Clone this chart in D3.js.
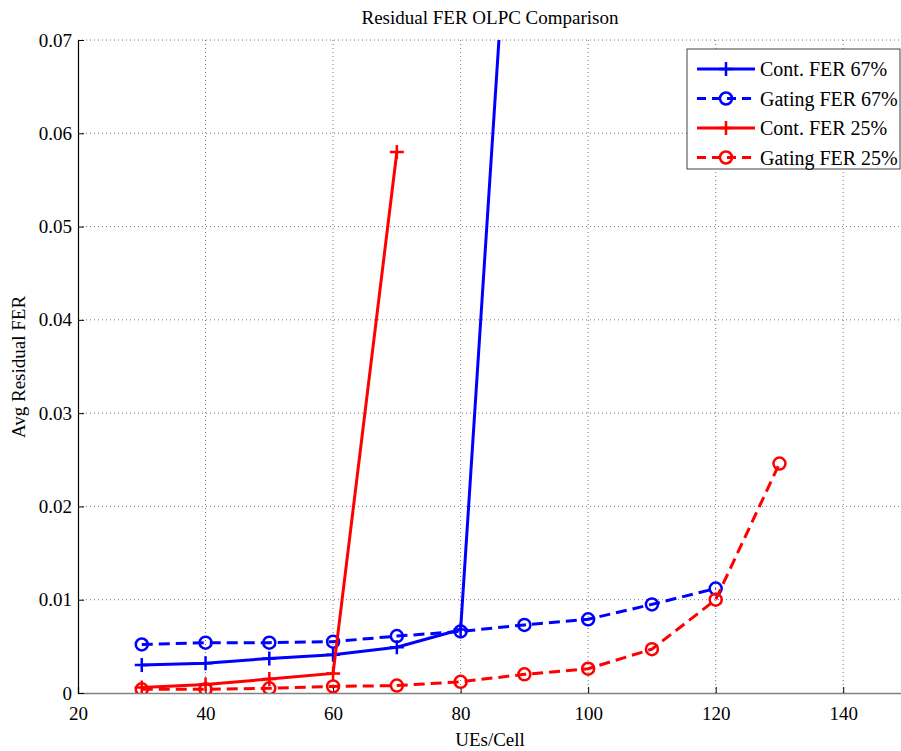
<!DOCTYPE html>
<html>
<head>
<meta charset="utf-8">
<script src="https://cdn.jsdelivr.net/npm/d3@7/dist/d3.min.js"></script>
<style>
  body { margin: 0; background: #fff; }
  svg text { font-family: "Liberation Serif", "Times New Roman", serif; }
</style>
</head>
<body>
<svg id="chart" width="901" height="751"></svg>
<script>
const svg = d3.select("#chart");

// data
const UES = [30, 40, 50, 60, 70, 80, 90, 100, 110, 120, 130];
const contFer67 = [0.0030, 0.0032, 0.0037, 0.0041, 0.0049, 0.0068, 0.112];
const gatingFer67 = [0.0052, 0.0054, 0.0054, 0.0055, 0.0061, 0.0066, 0.0073, 0.0079, 0.0095, 0.0112];
const contFer25 = [0.0006, 0.0009, 0.0015, 0.0021, 0.058];
const gatingFer25 = [0.0004, 0.0004, 0.0005, 0.0007, 0.0008, 0.0012, 0.0020, 0.0026, 0.0047, 0.0100, 0.0246];

const X_TICKS = [20, 40, 60, 80, 100, 120, 140];
const Y_TICKS = [0, 0.01, 0.02, 0.03, 0.04, 0.05, 0.06, 0.07];

const series = [
    { name: "Cont. FER 67%", values: contFer67, color: "#0000ff", dashed: false, marker: "plus" },
    { name: "Gating FER 67%", values: gatingFer67, color: "#0000ff", dashed: true, marker: "circle" },
    { name: "Cont. FER 25%", values: contFer25, color: "#ff0000", dashed: false, marker: "plus" },
    { name: "Gating FER 25%", values: gatingFer25, color: "#ff0000", dashed: true, marker: "circle" },
];

const PLOT_LEFT = 78, PLOT_TOP = 40, PLOT_BOTTOM = 693, PLOT_RIGHT = 907;
const xscale = d3.scaleLinear().domain([20, 150]).range([PLOT_LEFT, PLOT_RIGHT]);
const yscale = d3.scaleLinear().domain([0, 0.07]).range([PLOT_BOTTOM, PLOT_TOP]);
const FONT = "Liberation Serif";

// grid
const grid = svg.append("g");
grid.selectAll(".gx").data(X_TICKS.slice(1)).join("line")
    .attr("x1", d => xscale(d)).attr("x2", d => xscale(d))
    .attr("y1", PLOT_TOP).attr("y2", PLOT_BOTTOM)
    .style("stroke", "#777").style("stroke-width", 1).style("stroke-dasharray", "1,3");
grid.selectAll(".gy").data(Y_TICKS.slice(1)).join("line")
    .attr("x1", PLOT_LEFT).attr("x2", PLOT_RIGHT)
    .attr("y1", d => yscale(d)).attr("y2", d => yscale(d))
    .style("stroke", "#777").style("stroke-width", 1).style("stroke-dasharray", "1,3");

// axes
const xAxis = svg.append("g").attr("transform", `translate(0,${PLOT_BOTTOM})`)
    .call(d3.axisBottom(xscale).tickValues(X_TICKS).tickSize(-6).tickPadding(14))
    .attr("font-family", FONT).attr("font-size", 19);
xAxis.select(".domain").style("stroke", "#808080").style("stroke-width", 1.5);
xAxis.selectAll(".tick line").style("stroke", "#000");
xAxis.selectAll("text").attr("dy", "0.71em");

const yAxis = svg.append("g").attr("transform", `translate(${PLOT_LEFT},0)`)
    .call(d3.axisLeft(yscale).tickValues(Y_TICKS).tickSize(-6).tickPadding(6)
        .tickFormat(d => d === 0 ? "0" : d3.format(".2f")(d)))
    .attr("font-family", FONT).attr("font-size", 19);
yAxis.select(".domain").style("stroke", "#000").style("stroke-width", 1.2);
yAxis.selectAll(".tick line").style("stroke", "#000");

// clip for lines
svg.append("clipPath").attr("id", "plotclip")
    .append("rect").attr("x", PLOT_LEFT).attr("y", PLOT_TOP)
    .attr("width", PLOT_RIGHT - PLOT_LEFT).attr("height", PLOT_BOTTOM - PLOT_TOP);

const lineGen = d3.line().x(d => xscale(d.x)).y(d => yscale(d.y));

function drawMarker(g, cx, cy, s) {
    if (s.marker === "circle") {
        g.append("circle").attr("cx", cx).attr("cy", cy).attr("r", 6)
            .style("fill", "none").style("stroke", s.color).style("stroke-width", 2.5);
    } else {
        g.append("path").attr("d", `M${cx - 7},${cy}H${cx + 7}M${cx},${cy - 7}V${cy + 7}`)
            .style("stroke", s.color).style("stroke-width", 2.5);
    }
}

const plot = svg.append("g").attr("clip-path", "url(#plotclip)");
for (const s of series) {
    const pts = s.values.map((v, i) => ({ x: UES[i], y: v }));
    plot.append("path").datum(pts)
        .attr("d", lineGen)
        .style("fill", "none")
        .style("stroke", s.color)
        .style("stroke-width", 3)
        .style("stroke-dasharray", s.dashed ? "11,6" : null);
    for (const p of pts) {
        if (p.y <= 0.07) drawMarker(plot, xscale(p.x), yscale(p.y), s);
    }
}

// title and axis labels
svg.append("text").attr("x", 490).attr("y", 24).attr("text-anchor", "middle")
    .attr("font-family", FONT).attr("font-size", 19).text("Residual FER OLPC Comparison");
svg.append("text").attr("x", 490).attr("y", 746).attr("text-anchor", "middle")
    .attr("font-family", FONT).attr("font-size", 19).text("UEs/Cell");
svg.append("text").attr("transform", "translate(25,367) rotate(-90)").attr("text-anchor", "middle")
    .attr("font-family", FONT).attr("font-size", 19).text("Avg Residual FER");

// legend
const legend = svg.append("g");
legend.append("rect").attr("x", 687).attr("y", 49).attr("width", 213).attr("height", 120)
    .style("fill", "#fff").style("stroke", "#444").style("stroke-width", 1);
series.forEach((s, i) => {
    const ly = 69 + i * 29.5;
    legend.append("line").attr("x1", 697).attr("x2", 755).attr("y1", ly).attr("y2", ly)
        .style("stroke", s.color).style("stroke-width", 3)
        .style("stroke-dasharray", s.dashed ? "9,6" : null);
    drawMarker(legend, 726, ly, s);
    legend.append("text").attr("x", 760).attr("y", ly).attr("dy", "0.35em")
        .attr("font-family", FONT).attr("font-size", 20).text(s.name);
});
</script>
</body>
</html>
